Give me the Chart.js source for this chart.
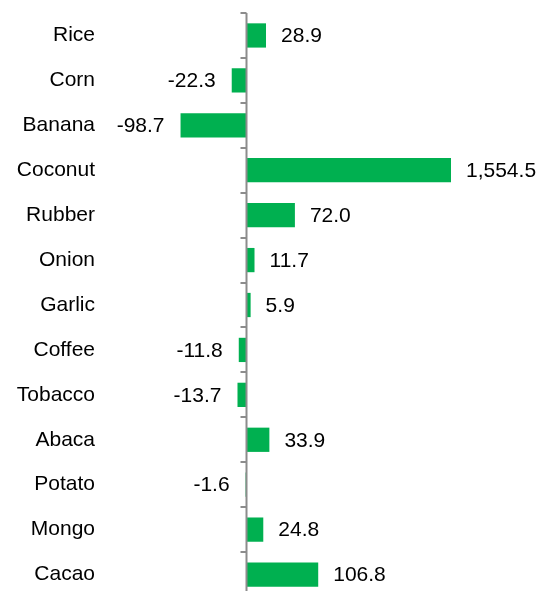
<!DOCTYPE html>
<html>
<head>
<meta charset="utf-8">
<script src="https://cdn.jsdelivr.net/npm/chart.js@4"></script>
<style>
  html, body { margin: 0; padding: 0; background: #fff; overflow: hidden; }
  canvas { display: block; }
</style>
</head>
<body>
<canvas id="barChart" width="536" height="600"></canvas>
<script>
var crops = ['Rice', 'Corn', 'Banana', 'Coconut', 'Rubber', 'Onion', 'Garlic',
             'Coffee', 'Tobacco', 'Abaca', 'Potato', 'Mongo', 'Cacao'];
var growth = [28.9, -22.3, -98.7, 1554.5, 72.0, 11.7, 5.9, -11.8, -13.7, 33.9, -1.6, 24.8, 106.8];

var FONT = '"Liberation Sans", Arial, sans-serif';

// zero axis line with small ticks between categories
let zeroAxis = {
  id: 'zeroAxis',
  afterDatasetsDraw: function(chart) {
    let ctx = chart.ctx, x = chart.scales.x, area = chart.chartArea;
    let x0 = Math.round(x.getPixelForValue(0)) - 0.5;
    let step = (area.bottom - area.top) / crops.length;
    ctx.save();
    ctx.strokeStyle = '#8c8c8c';
    ctx.lineWidth = 2;
    ctx.beginPath();
    ctx.moveTo(x0, area.top);
    ctx.lineTo(x0, area.bottom);
    for (let i = 0; i <= crops.length; i++) {
      let yy = Math.round(area.top + i * step);
      ctx.moveTo(x0 - 6, yy);
      ctx.lineTo(x0, yy);
    }
    ctx.stroke();
    ctx.restore();
  }
};

// value labels next to bar ends
let valueLabels = {
  id: 'valueLabels',
  afterDatasetsDraw: function(chart) {
    let ctx = chart.ctx, meta = chart.getDatasetMeta(0), area = chart.chartArea;
    ctx.save();
    ctx.font = '21px ' + FONT;
    ctx.fillStyle = '#000';
    ctx.textBaseline = 'middle';
    meta.data.forEach(function(bar, i) {
      let v = growth[i];
      let txt = v.toLocaleString('en-US', {minimumFractionDigits: 1, maximumFractionDigits: 1});
      if (v >= 0) {
        ctx.textAlign = 'left';
        ctx.fillText(txt, Math.min(bar.x, area.right) + 15, bar.y + 1);
      } else {
        ctx.textAlign = 'right';
        ctx.fillText(txt, bar.x - 16, bar.y + 1);
      }
    });
    ctx.restore();
  }
};

let ctx = document.getElementById('barChart').getContext('2d');
let chart = new Chart(ctx, {
  type: 'bar',
  data: {
    labels: crops,
    datasets: [{
      data: growth,
      backgroundColor: '#00b050',
      borderWidth: 0,
      barPercentage: 0.54,
      categoryPercentage: 1
    }]
  },
  options: {
    indexAxis: 'y',
    responsive: false,
    animation: false,
    layout: { padding: { top: 13, bottom: 3, left: 0, right: 85 } },
    plugins: {
      legend: { display: false },
      tooltip: { enabled: false }
    },
    scales: {
      x: {
        display: false,
        min: -204,
        max: 305
      },
      y: {
        grid: { display: false, drawTicks: false },
        border: { display: false },
        ticks: {
          color: '#000',
          padding: 15,
          font: { family: FONT, size: 21 }
        },
        afterFit: function(scale) {
          scale.width = 110;
          scale.paddingTop = 0;
          scale.paddingBottom = 0;
        }
      }
    }
  },
  plugins: [zeroAxis, valueLabels]
});
</script>
</body>
</html>
